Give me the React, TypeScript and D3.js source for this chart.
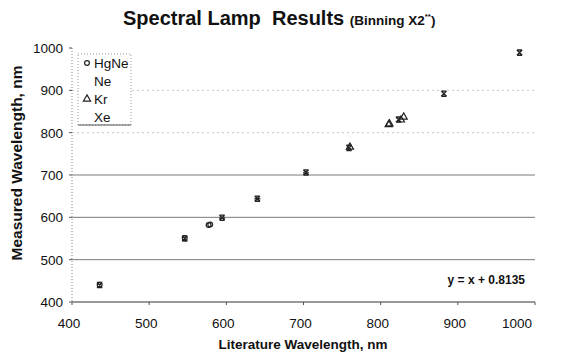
import React from "react";
import * as d3 from "d3";

const xTicks = [400, 500, 600, 700, 800, 900, 1000];
const yTicks = [400, 500, 600, 700, 800, 900, 1000];
const solidGrid = [500, 600, 700];
const faintGrid = [800, 900];

const hgNeX = [435.8, 546.1, 577.0, 579.1];
const hgNeY = [441, 551, 582, 583];
const neX = [594.5, 640.2, 703.2];
const neY = [598, 644, 705];
const krX = [760.2, 810.4, 811.3, 826.3, 829.8];
const krY = [766, 819, 821, 830, 837];
const xeX = [435.8, 546.1, 594.5, 640.2, 703.2, 759.0, 823.2, 881.9, 980.0];
const xeY = [440, 550, 599, 644, 706, 764, 831, 892, 989];

const legendItems = ["HgNe", "Ne", "Kr", "Xe"];
const equation = "y = x + 0.8135";

const W = 564;
const H = 357;
const x = d3.scaleLinear().domain([400, 1000]).range([72, 535]);
const y = d3.scaleLinear().domain([400, 1000]).range([302, 48]);

const font = "'Liberation Sans', Arial, sans-serif";

function Circle({ cx, cy }: { cx: number; cy: number }) {
  return <circle cx={cx} cy={cy} r={2.4} fill="none" stroke="#222" strokeWidth={1.2} />;
}
function Tri({ cx, cy }: { cx: number; cy: number }) {
  const p = d3.symbol().type(d3.symbolTriangle).size(22)();
  return <path d={p as string} transform={`translate(${cx},${cy})`} fill="none" stroke="#222" strokeWidth={1.2} />;
}
function XMark({ cx, cy }: { cx: number; cy: number }) {
  const s = 2.6;
  return (
    <path
      d={`M${cx - s},${cy - s}L${cx + s},${cy + s}M${cx - s},${cy + s}L${cx + s},${cy - s}M${cx - s},${cy - s}L${cx + s},${cy - s}M${cx - s},${cy + s}L${cx + s},${cy + s}`}
      stroke="#222"
      strokeWidth={1.4}
      fill="none"
    />
  );
}
function Dash({ cx, cy }: { cx: number; cy: number }) {
  return <path d={`M${cx - 3},${cy}L${cx + 3},${cy}`} stroke="#333" strokeWidth={1.4} />;
}

export default function App() {
  return (
    <svg width={W} height={H} style={{ position: "absolute", left: 0, top: 0, background: "#fff" }} fontFamily={font}>
      <rect x={0} y={0} width={W} height={H} fill="#fff" />
      {/* title */}
      <text x={123} y={25} fontWeight="bold" fill="#111" xmlSpace="preserve">
        <tspan fontSize={20}>Spectral Lamp  Results </tspan>
        <tspan fontSize={13.5}>(Binning X2</tspan>
        <tspan fontSize={8} dy={-6}>**</tspan>
        <tspan fontSize={13.5} dy={6}>)</tspan>
      </text>

      {/* gridlines */}
      {solidGrid.map((v) => (
        <line key={"g" + v} x1={x(400)} x2={x(1000)} y1={y(v)} y2={y(v)} stroke="#7a7a7a" strokeWidth={1} />
      ))}
      {faintGrid.map((v) => (
        <line key={"f" + v} x1={x(400)} x2={x(1000)} y1={y(v)} y2={y(v)} stroke="#c8c8c8" strokeWidth={1} strokeDasharray="2,3" />
      ))}

      {/* axes */}
      <line x1={x(400)} x2={x(400)} y1={y(1000)} y2={y(400)} stroke="#888" strokeDasharray="1,2" />
      <line x1={x(400)} x2={x(1000)} y1={y(400)} y2={y(400)} stroke="#333" strokeWidth={1} />
      {yTicks.map((v) => (
        <g key={"yt" + v}>
          <line x1={x(400) - 3} x2={x(400)} y1={y(v)} y2={y(v)} stroke="#555" />
          <text x={63} y={y(v) + 5} fontSize={13.5} textAnchor="end" fill="#111">
            {v}
          </text>
        </g>
      ))}
      {xTicks.map((v, i) => {
        const last = i === xTicks.length - 1;
        return (
          <g key={"xt" + v}>
            <line x1={x(v)} x2={x(v)} y1={y(400)} y2={y(400) + 3} stroke="#555" />
            <text x={last ? x(v) - 3 : x(v) - 3} y={328} fontSize={13.5} textAnchor={last ? "end" : "middle"} fill="#111">
              {v}
            </text>
          </g>
        );
      })}

      {/* axis titles */}
      <text x={303} y={349} fontSize={13.5} fontWeight="bold" textAnchor="middle" fill="#111">
        Literature Wavelength, nm
      </text>
      <text transform={`translate(22,${163}) rotate(-90)`} fontSize={15.5} fontWeight="bold" textAnchor="middle" fill="#111">
        Measured Wavelength, nm
      </text>

      {/* data */}
      {hgNeX.map((v, i) => (
        <Circle key={"h" + i} cx={x(v)} cy={y(hgNeY[i])} />
      ))}
      {neX.map((v, i) => (
        <Dash key={"n" + i} cx={x(v)} cy={y(neY[i])} />
      ))}
      {krX.map((v, i) => (
        <Tri key={"k" + i} cx={x(v)} cy={y(krY[i])} />
      ))}
      {xeX.map((v, i) => (
        <XMark key={"x" + i} cx={x(v)} cy={y(xeY[i])} />
      ))}

      {/* equation */}
      <text x={525} y={284} fontSize={12} fontWeight="bold" textAnchor="end" fill="#111">
        {equation}
      </text>

      {/* legend */}
      <rect x={78} y={54} width={53} height={71} fill="#fff" stroke="#999" strokeDasharray="1,2" />
      <line x1={78} x2={131} y1={125} y2={125} stroke="#555" />
      {legendItems.map((name, i) => {
        const cy = 63 + i * 18;
        return (
          <g key={name}>
            {name === "HgNe" && <Circle cx={87} cy={cy} />}
            {name === "Kr" && <Tri cx={87} cy={cy} />}
            <text x={94} y={cy + 5} fontSize={13.5} fill="#111">
              {name}
            </text>
          </g>
        );
      })}
    </svg>
  );
}
